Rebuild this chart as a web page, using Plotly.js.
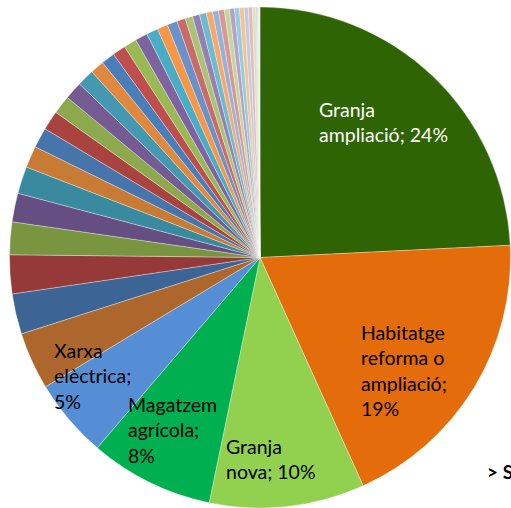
<!DOCTYPE html>
<html>
<head>
<meta charset="utf-8">
<script src="https://cdn.plot.ly/plotly-3.0.1.min.js"></script>
<style>html,body{margin:0;padding:0;background:#fff;overflow:hidden}#chart{width:511px;height:508px}</style>
</head>
<body>
<div id="chart"></div>
<script>
// Named categories (the five labelled slices)
var mainLabels = ["Granja ampliació", "Habitatge reforma o ampliació", "Granja nova", "Magatzem agrícola", "Xarxa elèctrica"];
var mainValues = [24.2, 19.0, 10.0, 8.0, 5.1];
// Line-broken label text as shown on the chart
var mainLabelLines = [["Granja", "ampliació; "], ["Habitatge", "reforma o", "ampliació;", ""], ["Granja", "nova; "], ["Magatzem", "agrícola;", ""], ["Xarxa", "elèctrica;", ""]];
// Remaining small (unlabelled) categories
var smallValues = [3.7, 2.6, 2.5, 2.1, 1.85, 1.75, 1.4, 1.3, 1.25, 1.2, 1.15, 1.1, 0.9, 0.87, 0.85, 0.83, 0.8, 0.75, 0.68, 0.65, 0.55, 0.48, 0.46, 0.45, 0.4, 0.38, 0.37, 0.33, 0.32, 0.32, 0.3, 0.27, 0.26, 0.22, 0.08, 0.07, 0.06, 0.05];
var smallLabels = smallValues.map(function (v, i) { return "Altres " + (i + 1); });
var sideNote = "> S";

var mainColors = ["#2E6403", "#E46C0A", "#92D050", "#00B050", "#558ED5"];
var smallColors = [
  "#AD672C", "#3C6494", "#953A38", "#7A9540", "#654F82", "#3A8A9F",
  "#C87B35", "#4674AB", "#A9433F", "#8DA94E", "#745C93", "#4499B1",
  "#E0883E", "#4A7EBB", "#BE4F4C", "#98B954", "#7F63A1", "#4BACC6",
  "#F79646", "#6A92C9", "#C86B69", "#A9C476", "#9580B1", "#6EBAD0",
  "#F9A86A", "#95B3D7", "#D99694", "#C3D69B", "#B3A2C7", "#93CDDD",
  "#FAC090", "#B9CDE5", "#E6B9B8", "#D7E4BD", "#CCC1DA", "#B7DEE8",
  "#FCD5B5", "#DBE5F1"
];

var labels = mainLabels.concat(smallLabels);
var values = mainValues.concat(smallValues);
var colors = mainColors.concat(smallColors);
var total = values.reduce(function (a, b) { return a + b; }, 0);

var W = 511, H = 508;
function px(x) { return x / W; }
function py(y) { return 1 - y / H; }

// label anchor positions (pixels: left x, vertical centre y) and text colours
var labelPos = [[317, 122], [359, 370], [224, 459], [126, 430], [52, 376]];
var labelColor = ["#FFFFFF", "#000000", "#000000", "#000000", "#000000"];

var annotations = mainLabels.map(function (name, i) {
  var pct = Math.round(mainValues[i] / total * 100) + "%";
  var lines = mainLabelLines[i].slice();
  lines[lines.length - 1] = lines[lines.length - 1] + pct;
  return {
    text: lines.join("<br>"),
    xref: "paper", yref: "paper",
    x: px(labelPos[i][0]), y: py(labelPos[i][1]),
    xanchor: "left", yanchor: "middle", align: "left",
    showarrow: false,
    font: {family: "Lato, 'Open Sans', sans-serif", size: 19.5, color: labelColor[i]}
  };
});
annotations.push({
  text: "<b>" + sideNote + "</b>",
  xref: "paper", yref: "paper",
  x: px(485), y: py(471), xanchor: "left", yanchor: "middle",
  showarrow: false,
  font: {family: "Lato, 'Open Sans', sans-serif", size: 19, color: "#000"}
});

var trace = {
  type: "pie",
  labels: labels,
  values: values,
  sort: false,
  direction: "clockwise",
  rotation: 0,
  textinfo: "none",
  hoverinfo: "label+percent",
  marker: {colors: colors, line: {color: "rgba(255,255,255,0.55)", width: 0.6}},
  domain: {x: [px(9), 1], y: [0, py(7)]},
  showlegend: false
};

var layout = {
  width: W, height: H,
  margin: {l: 0, r: 0, t: 0, b: 0, pad: 0},
  paper_bgcolor: "#FFFFFF",
  showlegend: false,
  annotations: annotations
};

Plotly.newPlot("chart", [trace], layout, {displayModeBar: false, staticPlot: true});
</script>
</body>
</html>
